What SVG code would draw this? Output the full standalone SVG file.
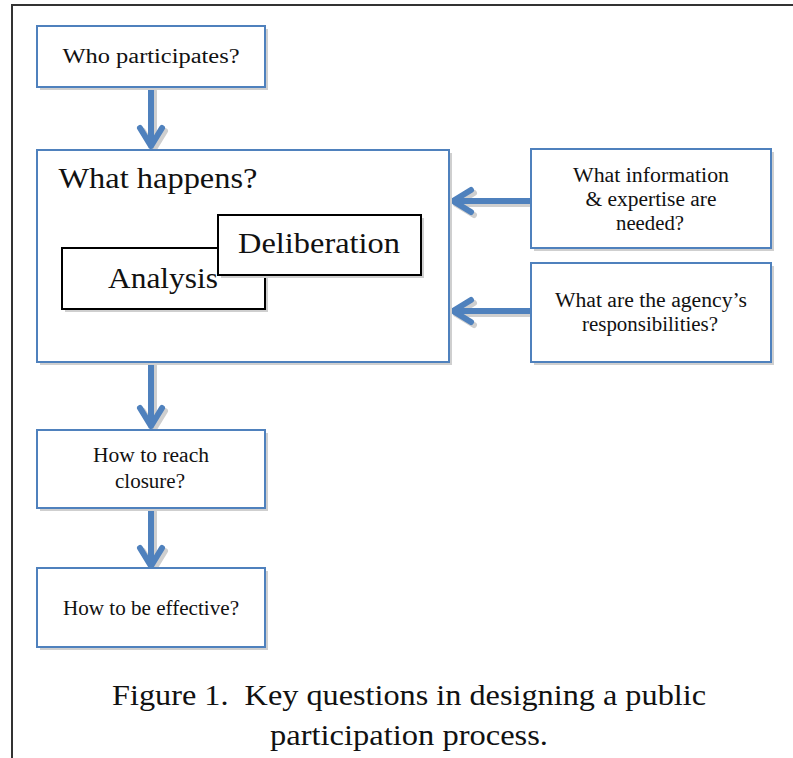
<svg xmlns="http://www.w3.org/2000/svg" width="793" height="758" viewBox="0 0 793 758">
<style>
.page{stroke:#333;stroke-width:2;fill:none}
.shadow{fill:#cfcfcf}
.bbox{fill:#fff;stroke:#4f81bd;stroke-width:2}
.kbox{fill:#fff;stroke:#000;stroke-width:2}
.t{font-family:'Liberation Serif','Times New Roman',Tinos,serif;fill:#111;text-anchor:middle}
.s{font-size:20px}
.l{font-size:29px}
.cap{font-size:30px}
.arr{stroke:#4f81bd;stroke-width:6;fill:none;stroke-linecap:round;stroke-linejoin:round}
.arrs{stroke:#cfcfcf;stroke-width:6;fill:none;stroke-linecap:round;stroke-linejoin:round}
</style>
<rect width="793" height="758" fill="#fff"/>
<path class="page" d="M12,758 V5 H793"/>

<g id="connectors">
  <g transform="translate(3,3)">
    <path class="arrs" d="M151,88 V146 M140,128 L151,146 L162,128"/>
    <path class="arrs" d="M151,363 V426 M140,408 L151,426 L162,408"/>
    <path class="arrs" d="M151,509 V566 M140,548 L151,566 L162,548"/>
    <path class="arrs" d="M530,201 H453 M471,190 L453,201 L471,212"/>
    <path class="arrs" d="M530,311 H453 M471,300 L453,311 L471,322"/>
  </g>
  <path class="arr" d="M151,88 V146 M140,128 L151,146 L162,128"/>
  <path class="arr" d="M151,363 V426 M140,408 L151,426 L162,408"/>
  <path class="arr" d="M151,509 V566 M140,548 L151,566 L162,548"/>
  <path class="arr" d="M530,201 H453 M471,190 L453,201 L471,212"/>
  <path class="arr" d="M530,311 H453 M471,300 L453,311 L471,322"/>
</g>

<g id="who">
  <rect class="shadow" x="40" y="29" width="228" height="61"/>
  <rect class="bbox" x="37" y="26" width="228" height="61"/>
  <text class="t s" x="151" y="63" textLength="177" lengthAdjust="spacingAndGlyphs">Who participates?</text>
</g>

<g id="what">
  <rect class="shadow" x="40" y="153" width="412" height="212"/>
  <rect class="bbox" x="37" y="150" width="412" height="212"/>
  <text class="t l" x="158" y="188" textLength="199" lengthAdjust="spacingAndGlyphs">What happens?</text>
</g>

<g id="analysis">
  <rect class="shadow" x="65" y="251" width="203" height="61"/>
  <rect class="kbox" x="62" y="248" width="203" height="61"/>
</g>

<g id="deliberation">
  <rect class="shadow" x="221" y="218" width="203" height="60"/>
  <rect class="kbox" x="218" y="215" width="203" height="60"/>
  <text class="t l" x="319" y="253" textLength="162" lengthAdjust="spacingAndGlyphs">Deliberation</text>
</g>
<text class="t l" x="163" y="288" textLength="110" lengthAdjust="spacingAndGlyphs">Analysis</text>

<g id="info">
  <rect class="shadow" x="534" y="152" width="240" height="99"/>
  <rect class="bbox" x="531" y="149" width="240" height="99"/>
  <text class="t s" x="651" y="182" textLength="156" lengthAdjust="spacingAndGlyphs">What information</text>
  <text class="t s" x="651" y="206" textLength="131" lengthAdjust="spacingAndGlyphs">&amp; expertise are</text>
  <text class="t s" x="650" y="230" textLength="68" lengthAdjust="spacingAndGlyphs">needed?</text>
</g>

<g id="agency">
  <rect class="shadow" x="534" y="266" width="240" height="99"/>
  <rect class="bbox" x="531" y="263" width="240" height="99"/>
  <text class="t s" x="651" y="307" textLength="192" lengthAdjust="spacingAndGlyphs">What are the agency’s</text>
  <text class="t s" x="650" y="331" textLength="136" lengthAdjust="spacingAndGlyphs">responsibilities?</text>
</g>

<g id="closure">
  <rect class="shadow" x="40" y="433" width="228" height="78"/>
  <rect class="bbox" x="37" y="430" width="228" height="78"/>
  <text class="t s" x="151" y="462" textLength="116" lengthAdjust="spacingAndGlyphs">How to reach</text>
  <text class="t s" x="150" y="488" textLength="70" lengthAdjust="spacingAndGlyphs">closure?</text>
</g>

<g id="effective">
  <rect class="shadow" x="40" y="571" width="228" height="79"/>
  <rect class="bbox" x="37" y="568" width="228" height="79"/>
  <text class="t s" x="151" y="615" textLength="176" lengthAdjust="spacingAndGlyphs">How to be effective?</text>
</g>

<g id="caption">
  <text class="t cap" x="409" y="705" textLength="594" lengthAdjust="spacingAndGlyphs" xml:space="preserve">Figure 1.  Key questions in designing a public</text>
  <text class="t cap" x="409" y="745" textLength="278" lengthAdjust="spacingAndGlyphs">participation process.</text>
</g>
</svg>
